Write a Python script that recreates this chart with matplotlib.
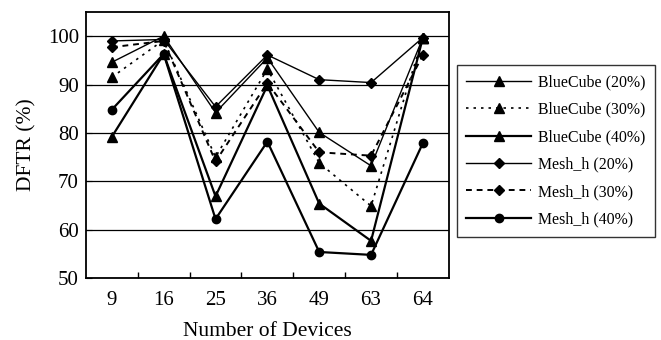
import matplotlib.pyplot as plt
import numpy as np

plt.rcParams['font.family'] = ['Liberation Serif', 'DejaVu Serif']

devices = ["9", "16", "25", "36", "49", "63", "64"]

bluecube_20 = [94.6, 100.0, 84.2, 95.5, 80.1, 73.2, 99.7]
bluecube_30 = [91.5, 99.2, 75.0, 93.2, 73.8, 64.9, 99.7]
bluecube_40 = [79.2, 96.3, 66.9, 89.8, 65.4, 57.7, 99.7]
mesh_20 = [99.0, 99.3, 85.4, 96.1, 91.0, 90.4, 99.7]
mesh_30 = [97.7, 99.0, 74.1, 90.3, 76.0, 75.3, 96.1]
mesh_40 = [84.8, 96.3, 62.2, 78.2, 55.4, 54.8, 77.9]

fig = plt.figure(figsize=(6.61, 3.40), dpi=100)
ax = fig.add_axes([0.130, 0.182, 0.549, 0.783])

x = np.arange(len(devices))

# BlueCube series (triangles)
ax.plot(x, bluecube_20, color="black", linewidth=1.0, marker="^", markersize=7,
        label="BlueCube (20%)")
ax.plot(x, bluecube_30, color="black", linewidth=1.2, linestyle=(0, (1.5, 3)),
        marker="^", markersize=7, label="BlueCube (30%)")
ax.plot(x, bluecube_40, color="black", linewidth=1.6, marker="^", markersize=7,
        label="BlueCube (40%)")

# Mesh_h series (diamonds / circles)
ax.plot(x, mesh_20, color="black", linewidth=1.0, marker="D", markersize=5.5,
        label="Mesh_h (20%)")
ax.plot(x, mesh_30, color="black", linewidth=1.4, linestyle=(0, (3, 2.5)),
        marker="D", markersize=5.5, label="Mesh_h (30%)")
ax.plot(x, mesh_40, color="black", linewidth=1.6, marker="o", markersize=6,
        label="Mesh_h (40%)")

ax.set_xlim(-0.5, 6.5)
ax.set_ylim(50, 105)
ax.set_yticks([50, 60, 70, 80, 90, 100])
ax.set_xticks(x)
ax.set_xticklabels(devices)
ax.set_xticks(np.arange(0.5, 6, 1), minor=True)
ax.tick_params(axis="x", which="major", length=0, labelsize=15, pad=9)
ax.tick_params(axis="x", which="minor", direction="in", length=4, width=1)
ax.tick_params(axis="y", direction="in", length=4, labelsize=15, pad=5)

ax.grid(axis="y", color="black", linewidth=0.9)
ax.set_axisbelow(True)
for s in ax.spines.values():
    s.set_linewidth(1.3)

ax.set_xlabel("Number of Devices", fontsize=15.5, labelpad=9)
ax.set_ylabel("DFTR (%)", fontsize=15.5, labelpad=8)

leg = fig.legend(loc="upper left", bbox_to_anchor=(0.691, 0.809),
                 bbox_transform=fig.transFigure, fontsize=11.4,
                 frameon=True, fancybox=False, edgecolor="black",
                 handlelength=4.1, labelspacing=0.72, borderpad=0.6,
                 handletextpad=0.45, borderaxespad=0)
leg.get_frame().set_linewidth(1.0)

fig.savefig("out.png", dpi=100)
